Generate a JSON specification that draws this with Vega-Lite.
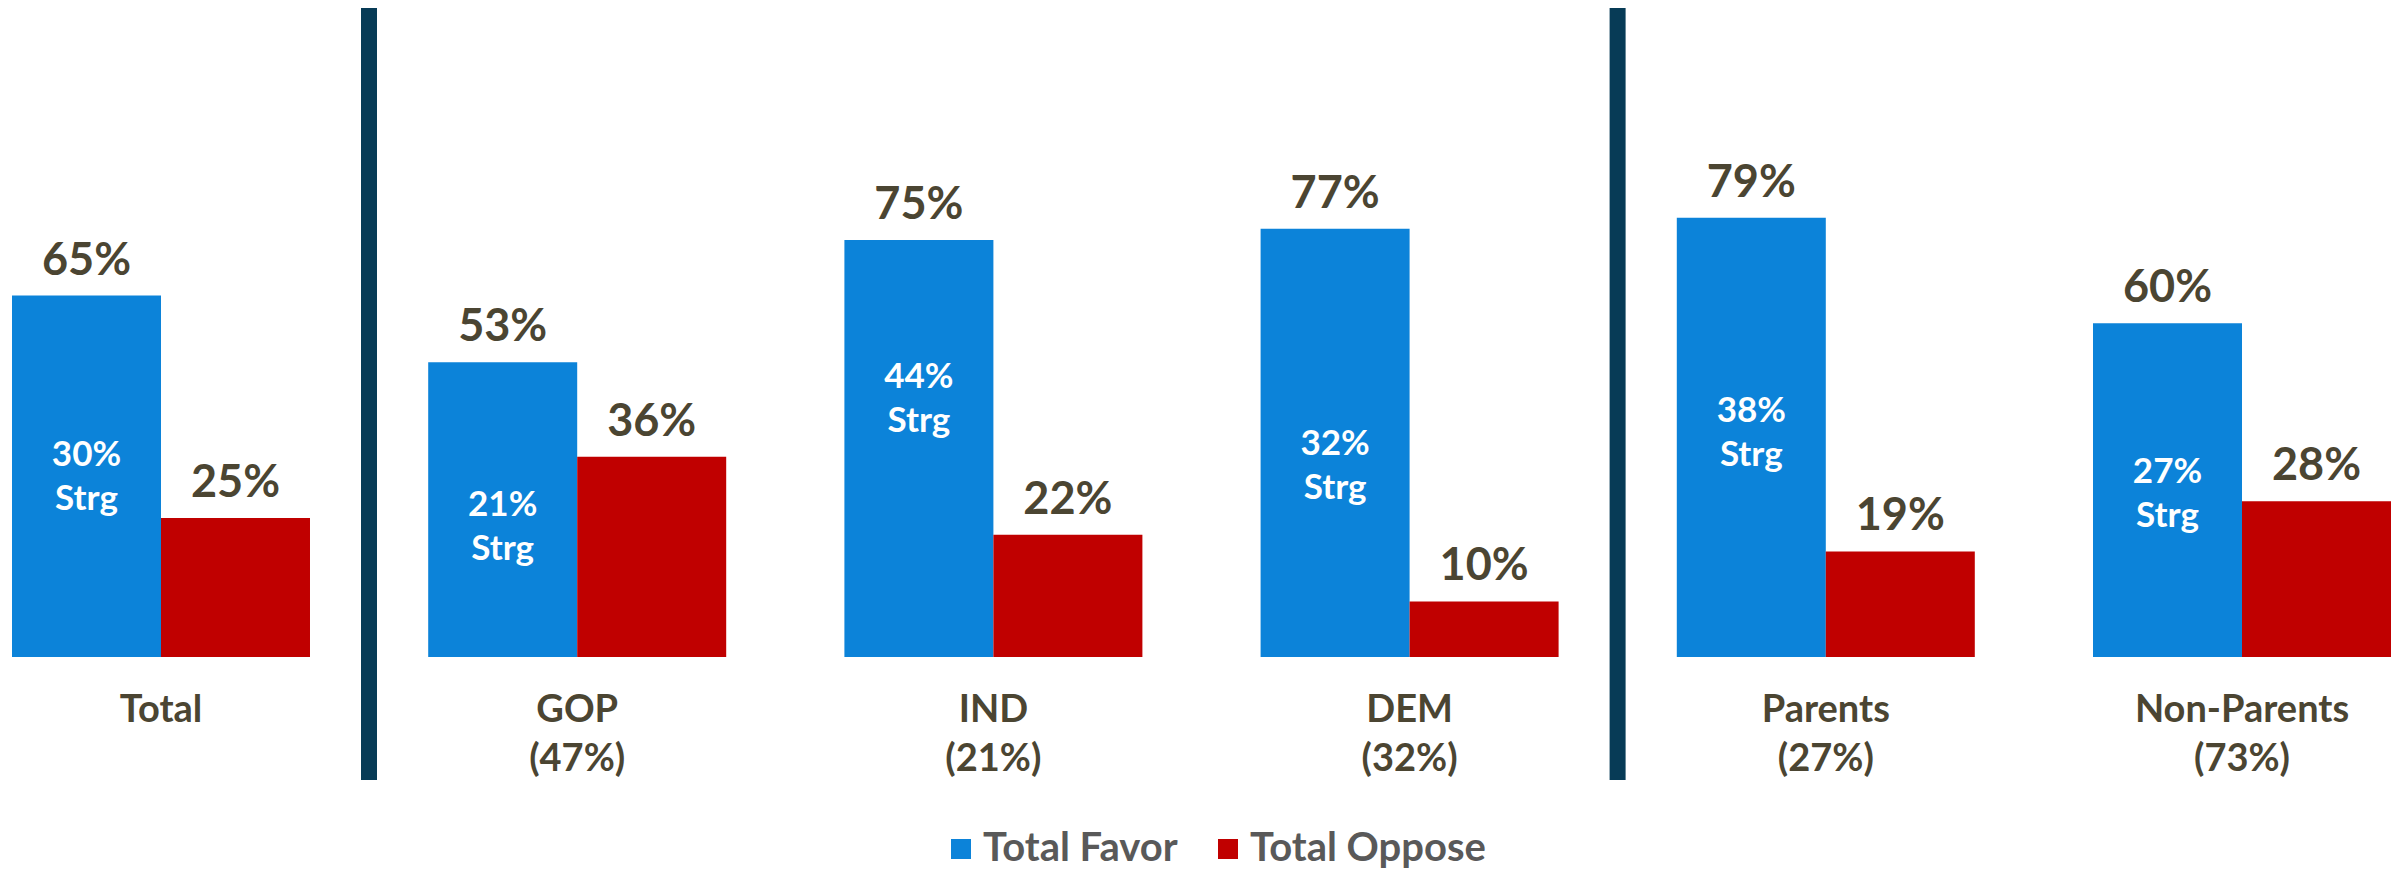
{
  "$schema": "https://vega.github.io/schema/vega-lite/v6.json",
  "width": 2379,
  "height": 772,
  "padding": {"left": 12, "top": 0, "right": 12, "bottom": 0},
  "autosize": {"type": "pad"},
  "background": "white",
  "config": {"view": {"stroke": null}, "font": "Lato"},
  "datasets": {
    "bars": [
      {"group": "Total", "series": "Total Favor", "value": 0.65, "strong": 0.30},
      {"group": "Total", "series": "Total Oppose", "value": 0.25},
      {"group": "GOP|(47%)", "series": "Total Favor", "value": 0.53, "strong": 0.21},
      {"group": "GOP|(47%)", "series": "Total Oppose", "value": 0.36},
      {"group": "IND|(21%)", "series": "Total Favor", "value": 0.75, "strong": 0.44},
      {"group": "IND|(21%)", "series": "Total Oppose", "value": 0.22},
      {"group": "DEM|(32%)", "series": "Total Favor", "value": 0.77, "strong": 0.32},
      {"group": "DEM|(32%)", "series": "Total Oppose", "value": 0.10},
      {"group": "Parents|(27%)", "series": "Total Favor", "value": 0.79, "strong": 0.38},
      {"group": "Parents|(27%)", "series": "Total Oppose", "value": 0.19},
      {"group": "Non-Parents|(73%)", "series": "Total Favor", "value": 0.60, "strong": 0.27},
      {"group": "Non-Parents|(73%)", "series": "Total Oppose", "value": 0.28}
    ],
    "separators": [
      {"group": "Total"},
      {"group": "DEM|(32%)"}
    ]
  },
  "encoding": {
    "x": {
      "field": "group",
      "type": "nominal",
      "scale": {
        "domain": ["Total", "GOP|(47%)", "IND|(21%)", "DEM|(32%)", "Parents|(27%)", "Non-Parents|(73%)"],
        "paddingInner": 0.284,
        "paddingOuter": 0
      },
      "axis": {
        "title": null,
        "orient": "bottom",
        "offset": -123,
        "labelPadding": 64,
        "domain": false,
        "ticks": false,
        "labelAngle": 0,
        "labelFontSize": 38,
        "labelFontWeight": "bold",
        "labelColor": "#4B4532",
        "labelBaseline": "alphabetic",
        "labelLineHeight": 49,
        "labelLimit": 500,
        "labelExpr": "split(datum.value, '|')"
      }
    }
  },
  "layer": [
    {
      "data": {"name": "separators"},
      "mark": {"type": "rule", "color": "#073B56", "strokeWidth": 16},
      "encoding": {
        "x": {"field": "group", "type": "nominal", "bandPosition": 1.198}
      }
    },
    {
      "data": {"name": "bars"},
      "mark": {"type": "bar"},
      "encoding": {
        "xOffset": {"field": "series", "type": "nominal", "scale": {"paddingInner": 0, "paddingOuter": 0}},
        "y": {"field": "value", "type": "quantitative", "scale": {"domain": [-0.221, 1.167], "nice": false, "zero": false}, "axis": null},
        "color": {
          "field": "series",
          "type": "nominal",
          "scale": {"domain": ["Total Favor", "Total Oppose"], "range": ["#0C83D9", "#C00000"]},
          "legend": {
            "title": null,
            "orient": "none",
            "legendX": 929,
            "legendY": 821,
            "direction": "horizontal",
            "symbolType": "square",
            "symbolSize": 400,
            "symbolStrokeWidth": 0,
            "labelFontSize": 40,
            "labelFontWeight": "bold",
            "labelColor": "#595959",
            "labelOffset": 2,
            "columnPadding": 30,
            "labelLimit": 400
          }
        }
      }
    },
    {
      "data": {"name": "bars"},
      "mark": {"type": "text", "baseline": "alphabetic", "dy": -21, "fontSize": 45, "fontWeight": "bold", "color": "#4B4532"},
      "encoding": {
        "xOffset": {"field": "series", "type": "nominal"},
        "y": {"field": "value", "type": "quantitative"},
        "text": {"field": "value", "type": "quantitative", "format": ".0%"}
      }
    },
    {
      "data": {"name": "bars"},
      "transform": [{"filter": "isValid(datum.strong)"}],
      "mark": {"type": "text", "baseline": "alphabetic", "dy": -24, "fontSize": 35, "fontWeight": "bold", "color": "white"},
      "encoding": {
        "xOffset": {"field": "series", "type": "nominal"},
        "y": {"field": "strong", "type": "quantitative"},
        "text": {"field": "strong", "type": "quantitative", "format": ".0%"}
      }
    },
    {
      "data": {"name": "bars"},
      "transform": [{"filter": "isValid(datum.strong)"}],
      "mark": {"type": "text", "baseline": "alphabetic", "dy": 20, "fontSize": 35, "fontWeight": "bold", "color": "white", "text": "Strg"},
      "encoding": {
        "xOffset": {"field": "series", "type": "nominal"},
        "y": {"field": "strong", "type": "quantitative"}
      }
    }
  ]
}
